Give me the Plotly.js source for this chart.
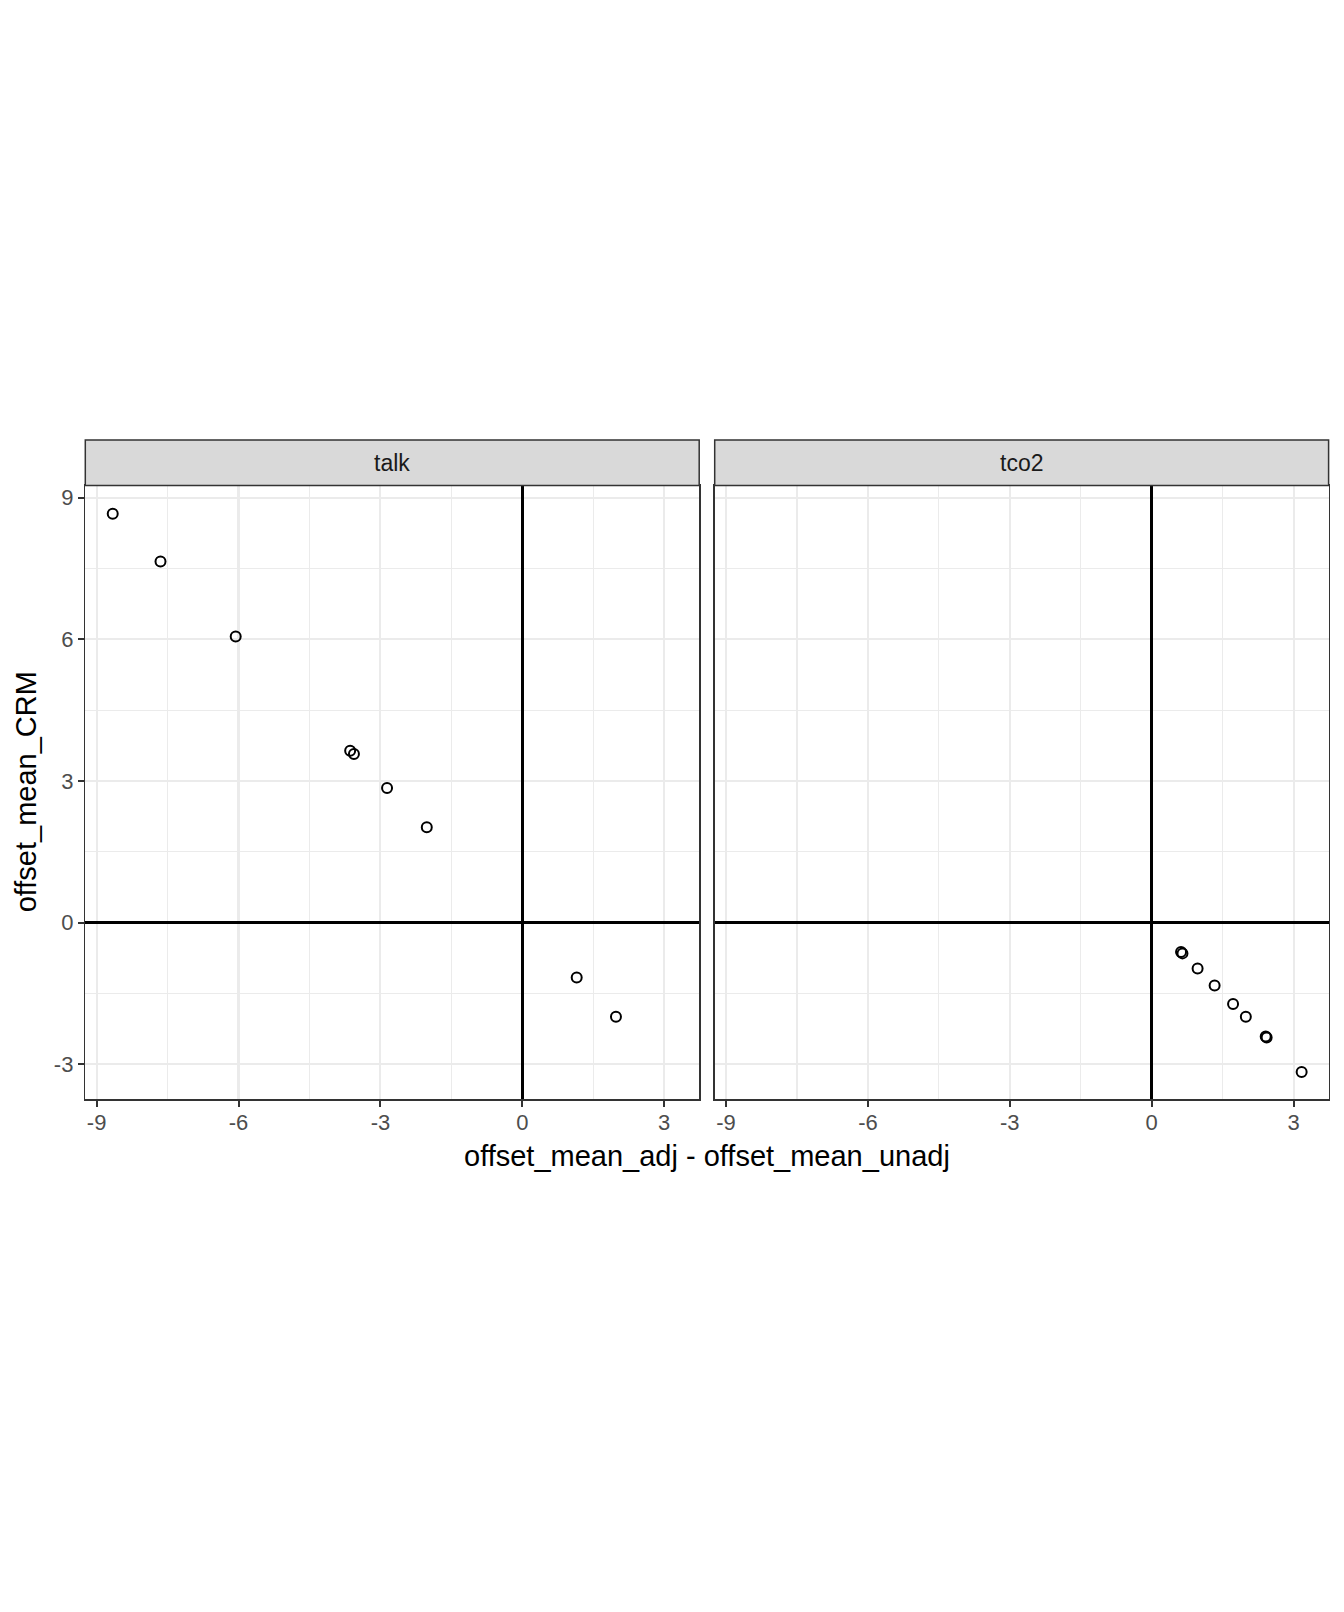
<!DOCTYPE html>
<html>
<head>
<meta charset="utf-8">
<script src="https://cdn.plot.ly/plotly-3.0.1.min.js"></script>
<style>html,body{margin:0;padding:0;background:#fff;}#chart{width:1344px;height:1612px;}</style>
</head>
<body>
<div id="chart"></div>
<script>
// Data
const panels = ["talk", "tco2"];
const talkX = [-8.66, -7.65, -6.06, -3.64, -3.56, -2.86, -2.02, 1.15, 1.98];
const talkY = [8.66, 7.65, 6.06, 3.64, 3.57, 2.85, 2.02, -1.16, -1.99];
const tco2X = [0.62, 0.65, 0.97, 1.33, 1.72, 1.99, 2.41, 2.43, 3.17];
const tco2Y = [-0.62, -0.65, -0.97, -1.33, -1.72, -1.99, -2.41, -2.43, -3.16];
const xTickVals = [-9, -6, -3, 0, 3];
const xTickText = ["-9", "-6", "-3", "0", "3"];
const yTickVals = [-3, 0, 3, 6, 9];
const yTickText = ["-3", "0", "3", "6", "9"];
const xMinorVals = [-7.5, -4.5, -1.5, 1.5];
const yMinorVals = [-1.5, 1.5, 4.5, 7.5];
const xTitle = "offset_mean_adj - offset_mean_unadj";
const yTitle = "offset_mean_CRM";

const W = 1344, H = 1612;
const font = "Liberation Sans, Arial, Helvetica, sans-serif";
const px = v => v / W;
const py = v => 1 - v / H;

const panelTop = 485.4, panelBot = 1099.3, stripTop = 440;
const xDomL = [px(85.3), px(699.2)];
const xDomR = [px(714.7), px(1328.6)];
const yDom = [py(panelBot), py(panelTop)];
const tickSize = 22, stripSize = 23, titleSize = 29;

const marker = {symbol: "circle-open", size: 10, color: "#000000", line: {width: 2, color: "#000000"}};

const traces = [
  {x: talkX, y: talkY, type: "scatter", mode: "markers", marker: marker, xaxis: "x", yaxis: "y", showlegend: false, hoverinfo: "x+y"},
  {x: tco2X, y: tco2Y, type: "scatter", mode: "markers", marker: marker, xaxis: "x2", yaxis: "y2", showlegend: false, hoverinfo: "x+y"}
];

function xAxis(domain, anchor) {
  return {
    domain: domain, anchor: anchor, range: [-9.24, 3.74],
    tickmode: "array", tickvals: xTickVals, ticktext: xTickText,
    ticks: "outside", ticklen: 6, tickwidth: 2, tickcolor: "#333333",
    ticklabelstandoff: -3,
    tickfont: {family: font, size: tickSize, color: "#4d4d4d"},
    showgrid: true, gridcolor: "#ebebeb", gridwidth: 2.1,
    minor: {tickmode: "array", tickvals: xMinorVals, showgrid: true, gridcolor: "#ebebeb", gridwidth: 1.1, ticks: ""},
    zeroline: true, zerolinecolor: "#000000", zerolinewidth: 2.5,
    showline: true, mirror: true, linecolor: "#333333", linewidth: 1.5,
    fixedrange: true
  };
}
function yAxis(anchor, showLabels) {
  return {
    domain: yDom, anchor: anchor, range: [-3.74, 9.26],
    tickmode: "array", tickvals: yTickVals, ticktext: yTickText,
    ticks: showLabels ? "outside" : "", ticklen: 6, tickwidth: 2, tickcolor: "#333333",
    showticklabels: showLabels,
    tickfont: {family: font, size: tickSize, color: "#4d4d4d"},
    showgrid: true, gridcolor: "#ebebeb", gridwidth: 2.1,
    minor: {tickmode: "array", tickvals: yMinorVals, showgrid: true, gridcolor: "#ebebeb", gridwidth: 1.1, ticks: ""},
    zeroline: true, zerolinecolor: "#000000", zerolinewidth: 2.5,
    showline: true, mirror: true, linecolor: "#333333", linewidth: 1.5,
    fixedrange: true
  };
}

const shapes = [xDomL, xDomR].map(d => ({
  type: "rect", xref: "paper", yref: "paper",
  x0: d[0], x1: d[1], y0: py(panelTop), y1: py(stripTop),
  fillcolor: "#d9d9d9", line: {color: "#333333", width: 1.5}, layer: "above"
}));

const annotations = [
  {text: panels[0], xref: "paper", yref: "paper", x: (xDomL[0] + xDomL[1]) / 2, y: py((stripTop + panelTop) / 2),
   showarrow: false, xanchor: "center", yanchor: "middle", font: {family: font, size: stripSize, color: "#1a1a1a"}},
  {text: panels[1], xref: "paper", yref: "paper", x: (xDomR[0] + xDomR[1]) / 2, y: py((stripTop + panelTop) / 2),
   showarrow: false, xanchor: "center", yanchor: "middle", font: {family: font, size: stripSize, color: "#1a1a1a"}},
  {text: xTitle, xref: "paper", yref: "paper", x: (xDomL[0] + xDomR[1]) / 2, y: py(1156),
   showarrow: false, xanchor: "center", yanchor: "middle", font: {family: font, size: titleSize, color: "#000000"}},
  {text: yTitle, xref: "paper", yref: "paper", x: px(26), y: py((panelTop + panelBot) / 2), textangle: -90,
   showarrow: false, xanchor: "center", yanchor: "middle", font: {family: font, size: titleSize, color: "#000000"}}
];

const layout = {
  width: W, height: H,
  margin: {l: 0, r: 0, t: 0, b: 0},
  paper_bgcolor: "#ffffff", plot_bgcolor: "#ffffff",
  xaxis: xAxis(xDomL, "y"),
  yaxis: yAxis("x", true),
  xaxis2: xAxis(xDomR, "y2"),
  yaxis2: yAxis("x2", false),
  shapes: shapes,
  annotations: annotations,
  showlegend: false
};

Plotly.newPlot("chart", traces, layout, {displayModeBar: false, staticPlot: true});
</script>
</body>
</html>
